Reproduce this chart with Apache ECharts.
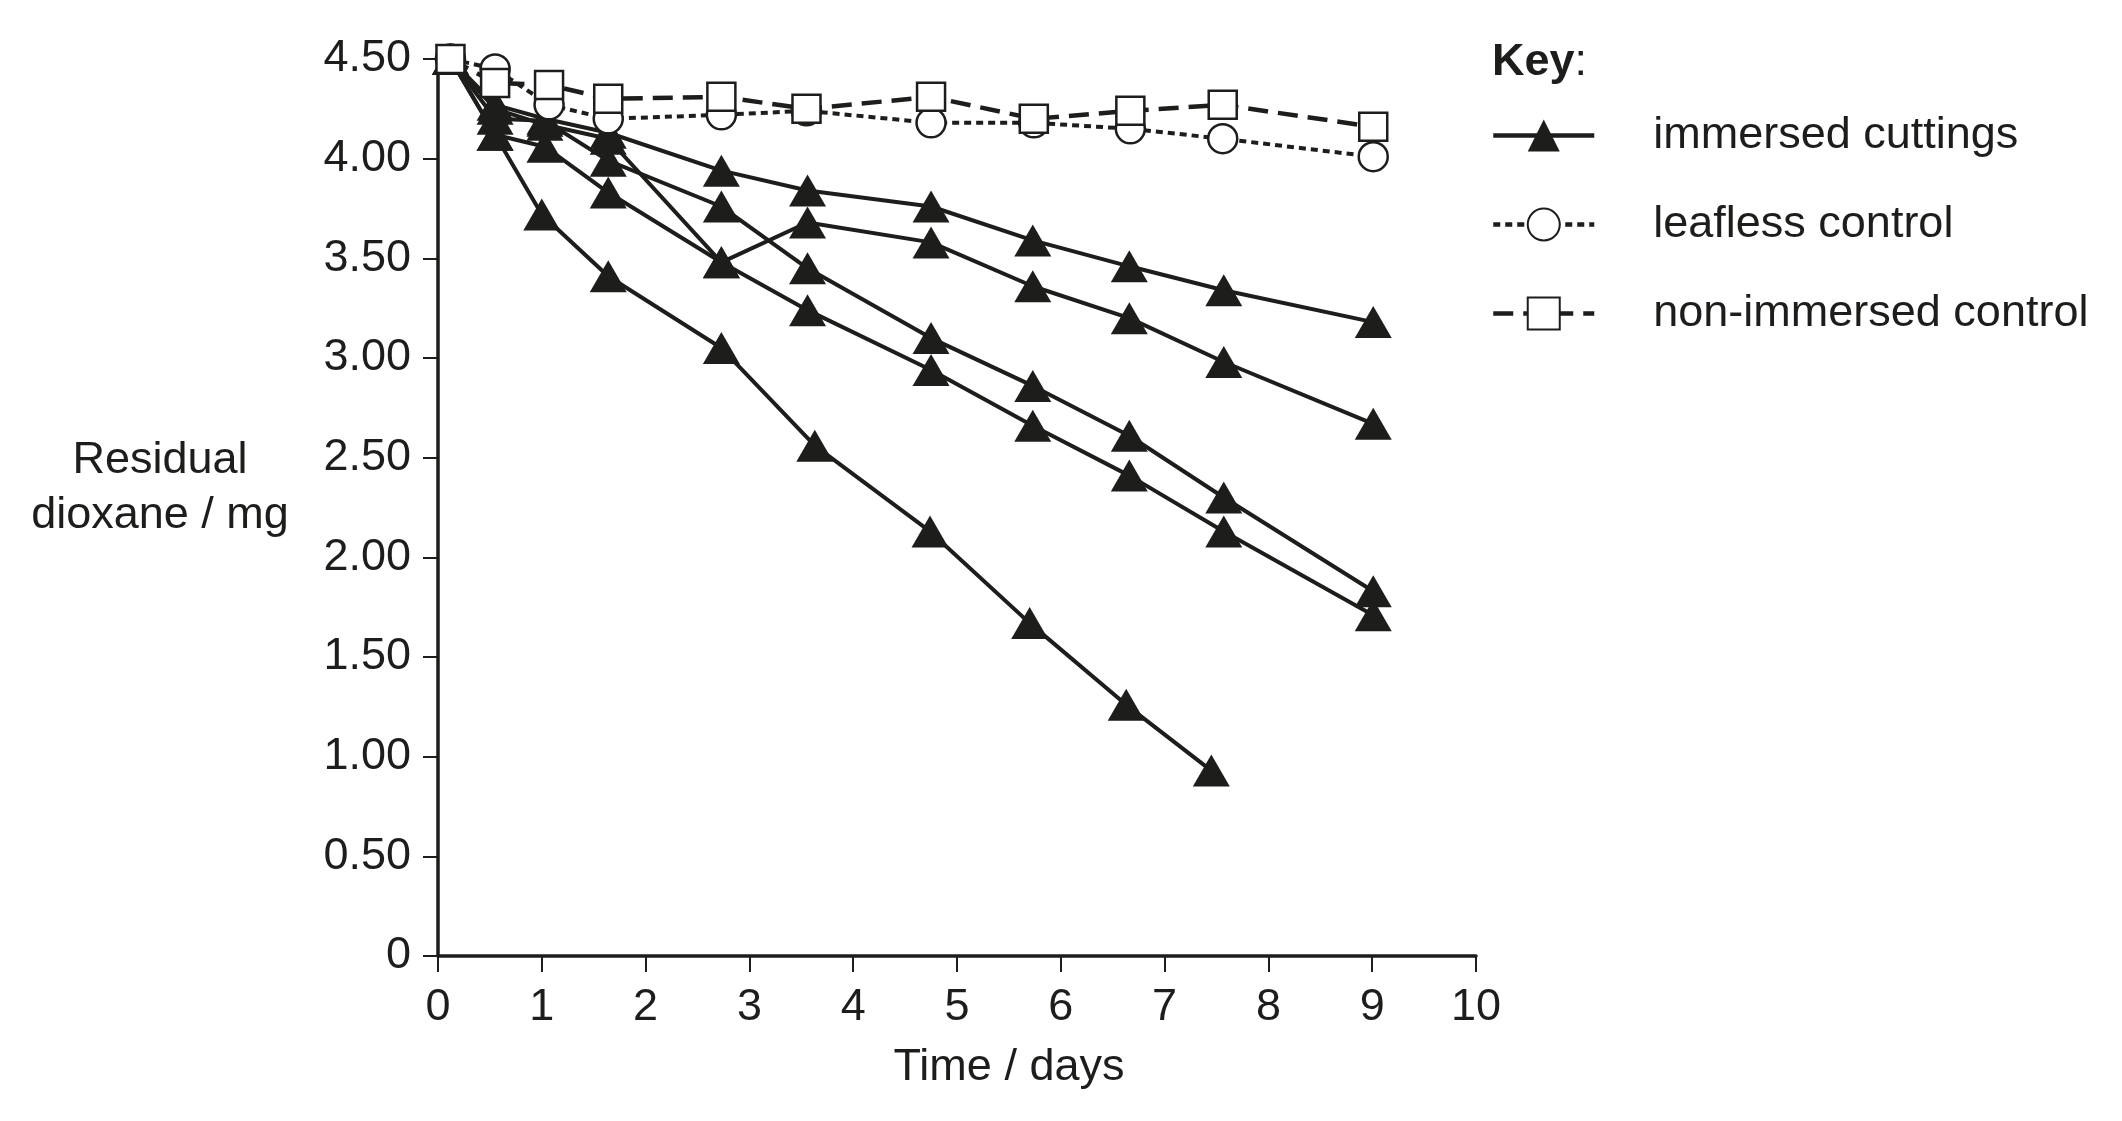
<!DOCTYPE html>
<html>
<head>
<meta charset="utf-8">
<script src="https://cdn.jsdelivr.net/npm/echarts@6/dist/echarts.min.js"></script>
<style>
  html, body { margin: 0; padding: 0; background: #ffffff; }
  #chart { width: 2122px; height: 1121px; }
</style>
</head>
<body>
<div id="chart"></div>
<script>
// ---- data ----
var daysMain = [0.12, 0.55, 1.03, 1.64, 2.73, 3.56, 4.75, 5.73, 6.66, 7.57, 9.01];
var cuttingsA = [4.50, 4.27, 4.20, 4.13, 3.94, 3.84, 3.76, 3.59, 3.46, 3.34, 3.18];
var cuttingsB = [4.50, 4.25, 4.17, 4.10, 3.48, 3.68, 3.58, 3.36, 3.20, 2.98, 2.67];
var cuttingsC = [4.50, 4.20, 4.19, 3.99, 3.76, 3.45, 3.10, 2.86, 2.61, 2.30, 1.83];
var cuttingsD = [4.50, 4.12, 4.06, 3.83, 3.48, 3.24, 2.94, 2.66, 2.41, 2.13, 1.71];
var daysE = [0.12, 0.55, 1.00, 1.64, 2.73, 3.63, 4.74, 5.70, 6.63, 7.45];
var cuttingsE = [4.50, 4.12, 3.72, 3.41, 3.05, 2.56, 2.13, 1.67, 1.26, 0.93];
var daysCtrl = [0.12, 0.55, 1.07, 1.64, 2.73, 3.55, 4.75, 5.74, 6.67, 7.56, 9.01];
var leaflessCtrl = [4.50, 4.45, 4.27, 4.20, 4.22, 4.24, 4.18, 4.18, 4.15, 4.10, 4.01];
var nonImmersedCtrl = [4.50, 4.38, 4.37, 4.30, 4.31, 4.25, 4.31, 4.20, 4.24, 4.27, 4.16];
var xTicks = [0, 1, 2, 3, 4, 5, 6, 7, 8, 9, 10];
var yTicks = ['0', '0.50', '1.00', '1.50', '2.00', '2.50', '3.00', '3.50', '4.00', '4.50'];
var legendNames = ['immersed cuttings', 'leafless control', 'non-immersed control'];

function pairs(xs, ys) { return xs.map(function (x, i) { return [x, ys[i]]; }); }

var INK = '#1d1d1b';
var FONT = 'Liberation Sans, Arial, sans-serif';

function cuttingSeries(xs, ys) {
  return {
    name: legendNames[0], type: 'line', data: pairs(xs, ys),
    symbol: 'triangle', symbolSize: [37, 32],
    itemStyle: { color: INK, borderWidth: 0 },
    lineStyle: { color: INK, width: 4 },
    z: 2
  };
}

var chart = echarts.init(document.getElementById('chart'), null, { renderer: 'canvas' });
chart.setOption({
  animation: false,
  backgroundColor: '#ffffff',
  textStyle: { fontFamily: FONT, color: INK },
  grid: { left: 438, right: 646, top: 59, bottom: 165, containLabel: false, outerBoundsMode: 'none' },
  xAxis: {
    type: 'value', min: 0, max: 10, interval: 1,
    axisLine: { show: true, lineStyle: { color: INK, width: 3.5 } },
    axisTick: { show: true, length: 16, lineStyle: { color: INK, width: 2 } },
    axisLabel: { margin: 29, fontSize: 45, color: INK, fontFamily: FONT,
      formatter: function (v) { return xTicks.indexOf(v) >= 0 ? String(v) : ''; } },
    splitLine: { show: false }
  },
  yAxis: {
    type: 'value', min: 0, max: 4.5, interval: 0.5,
    axisLine: { show: true, lineStyle: { color: INK, width: 3.5 } },
    axisTick: { show: true, length: 15, lineStyle: { color: INK, width: 2 } },
    axisLabel: { margin: 27, fontSize: 45, color: INK, fontFamily: FONT,
      formatter: function (v) { return yTicks[Math.round(v / 0.5)]; } },
    splitLine: { show: false }
  },
  legend: {
    orient: 'vertical', left: 1491, top: 113, padding: 0,
    itemWidth: 101, itemHeight: 40, itemGap: 44,
    data: legendNames,
    selectedMode: false,
    lineStyle: { width: 4.5 },
    textStyle: { fontSize: 45, color: INK, fontFamily: FONT, padding: [0, 0, 0, 54] }
  },
  graphic: [
    { type: 'text', left: 1492, top: 40, style: { text: '{b|Key}:', font: '45px ' + FONT, fill: INK,
      rich: { b: { fontWeight: 'bold', fontSize: 45, fontFamily: FONT, fill: INK } } } },
    { type: 'text', x: 1009, y: 1068, style: { text: 'Time / days', font: '45px ' + FONT, fill: INK,
      align: 'center', verticalAlign: 'middle' } },
    { type: 'text', x: 160, y: 488, style: { text: 'Residual\ndioxane / mg', font: '45px ' + FONT, fill: INK,
      align: 'center', verticalAlign: 'middle', lineHeight: 55 } }
  ],
  series: [
    cuttingSeries(daysMain, cuttingsA),
    cuttingSeries(daysMain, cuttingsB),
    cuttingSeries(daysMain, cuttingsC),
    cuttingSeries(daysMain, cuttingsD),
    cuttingSeries(daysE, cuttingsE),
    {
      name: legendNames[1], type: 'line', data: pairs(daysCtrl, leaflessCtrl),
      symbol: 'circle', symbolSize: 29,
      itemStyle: { color: '#ffffff', borderColor: INK, borderWidth: 2.5 },
      lineStyle: { color: INK, width: 4, type: [7, 5] },
      z: 3
    },
    {
      name: legendNames[2], type: 'line', data: pairs(daysCtrl, nonImmersedCtrl),
      symbol: 'rect', symbolSize: 28,
      itemStyle: { color: '#ffffff', borderColor: INK, borderWidth: 2.5 },
      lineStyle: { color: INK, width: 4.5, type: [20, 10] },
      z: 4
    }
  ]
});
</script>
</body>
</html>
